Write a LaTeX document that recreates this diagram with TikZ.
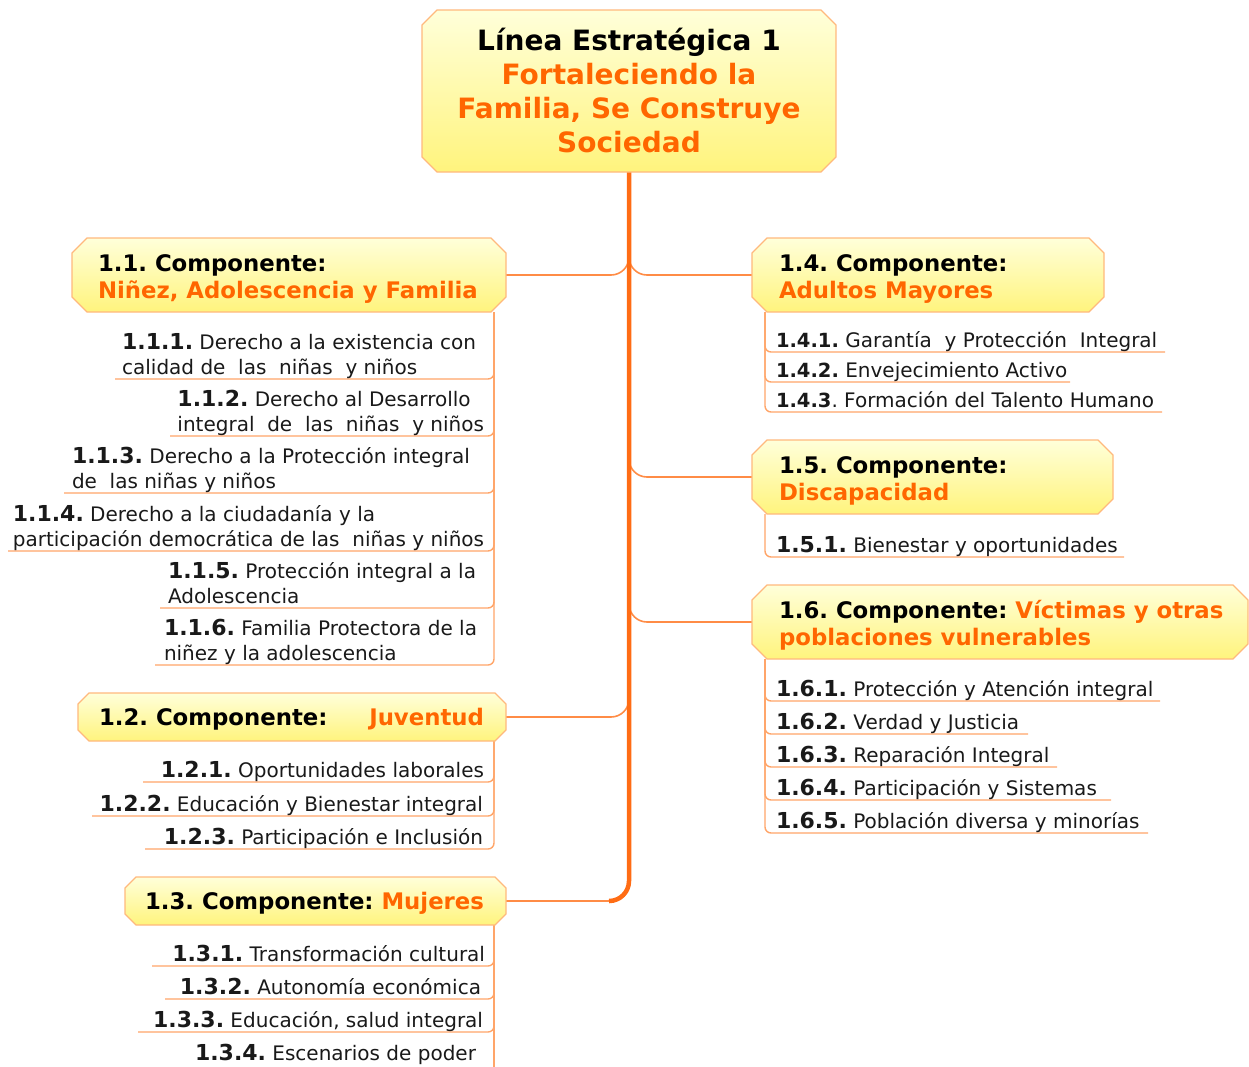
\documentclass[tikz,border=0pt]{standalone}
\usepackage{fontspec}
\setmainfont{DejaVu Sans}
\usetikzlibrary{calc,fit}
\frenchspacing
\definecolor{ttl}{RGB}{255,102,0}
\definecolor{trunkc}{RGB}{255,108,20}
\definecolor{branchc}{RGB}{255,140,70}
\definecolor{leafc}{RGB}{255,165,105}
\definecolor{boxline}{RGB}{255,185,125}
\definecolor{boxtop}{RGB}{255,255,218}
\definecolor{boxbot}{RGB}{255,244,125}
\definecolor{txt}{RGB}{25,25,25}
\newcommand\lnum[1]{{\fontsize{22pt}{24pt}\selectfont\bfseries #1}}
\newcommand\snum[1]{{\fontsize{19.5pt}{24pt}\selectfont\bfseries #1}}
\newcommand\mystack[2]{\vtop{\baselineskip=#1\lineskiplimit=-20pt\lineskip=0pt\relax #2}}
\newcommand\myline[1]{\hbox{#1}}
\newcommand\ctrline[1]{\hbox to 420pt{\hfil#1\hfil}}
\newcommand\orng[1]{\textcolor{ttl}{#1}}
\newcommand\boxgeom[5]{%
  \coordinate (#1nw) at (#2,#3);
  \coordinate (#1se) at (#4,#5);
  \node[fit=(#1nw)(#1se), inner sep=0pt, outer sep=0pt] (#1) {};}
\newcommand\boxdraw[2]{%
  \path[cbox] ([xshift=#2]#1.north west) -- ([xshift=-#2]#1.north east)
    -- ([yshift=-#2]#1.north east) -- ([yshift=#2]#1.south east)
    -- ([xshift=-#2]#1.south east) -- ([xshift=#2]#1.south west)
    -- ([yshift=#2]#1.south west) -- ([yshift=-#2]#1.north west) -- cycle;}
\begin{document}
\begin{tikzpicture}[x=1pt,y=-1pt,
  cbox/.style={draw=boxline, line width=1.3pt, top color=boxtop, bottom color=boxbot},
  trunk/.style={draw=trunkc, line width=4.5pt},
  branch/.style={draw=branchc, line width=1.6pt, rounded corners=18pt},
  leafl/.style={draw=leafc, line width=1.4pt, rounded corners=6pt},
  ttext/.style={inner sep=0pt, outer sep=0pt, font=\fontsize{28pt}{34pt}\selectfont\bfseries, anchor=base},
  ctext/.style={inner sep=0pt, outer sep=0pt, font=\fontsize{22.8pt}{27pt}\selectfont\bfseries, anchor=base west},
  ltext/.style={inner sep=0pt, outer sep=0pt, text=txt, font=\fontsize{20pt}{24.5pt}\selectfont},
]
\useasboundingbox (0,0) rectangle (1249,1066);
\coordinate (sL) at (494,0);
\coordinate (sR) at (765,0);

% box geometry
\boxgeom{top}{422}{10}{836}{172}
\boxgeom{b11}{72}{238}{506}{312}
\boxgeom{b12}{78}{693}{506}{741}
\boxgeom{b13}{125}{877}{506}{925}
\boxgeom{b14}{752}{238}{1104}{312}
\boxgeom{b15}{752}{440}{1113}{514}
\boxgeom{b16}{752}{585}{1248}{659}

% branches
\draw[branch] ($(b11.east -| top.south)+(0,-30)$) |- (b11.east);
\draw[branch] ($(b12.east -| top.south)+(0,-30)$) |- (b12.east);
\draw[branch] ($(b13.east -| top.south)+(0,-30)$) |- (b13.east);
\draw[branch] ($(b14.west -| top.south)+(0,-30)$) |- (b14.west);
\draw[branch] ($(b15.west -| top.south)+(0,-30)$) |- (b15.west);
\draw[branch] ($(b16.west -| top.south)+(0,-30)$) |- (b16.west);
% trunk
\draw[trunk] (top.south) -- ($(b13.east -| top.south)+(0,-20)$)
  to[out=-90,in=0] ($(b13.east -| top.south)+(-20,0)$);

% leaf underline coordinates
\coordinate (u111) at (115,379);
\coordinate (u112) at (170,436);
\coordinate (u113) at (64,493);
\coordinate (u114) at (8,551);
\coordinate (u115) at (160,608);
\coordinate (u116) at (155,665);
\coordinate (u121) at (143,782);
\coordinate (u122) at (92,816);
\coordinate (u123) at (145,849);
\coordinate (u131) at (152,966);
\coordinate (u132) at (165,999);
\coordinate (u133) at (138,1032);
\coordinate (e134) at (494,1068);
\coordinate (u141) at (1165,352);
\coordinate (u142) at (1070,382);
\coordinate (u143) at (1162,412);
\coordinate (u151) at (1124,557);
\coordinate (u161) at (1160,701);
\coordinate (u162) at (1028,734);
\coordinate (u163) at (1057,767);
\coordinate (u164) at (1111,800);
\coordinate (u165) at (1148,833);

\foreach \u in {u111,u112,u113,u114,u115,u116}
  \draw[leafl] (b11.south -| sL) |- (\u);
\foreach \u in {u121,u122,u123}
  \draw[leafl] (b12.south -| sL) |- (\u);
\foreach \u in {u131,u132,u133}
  \draw[leafl] (b13.south -| sL) |- (\u);
\draw[leafl] (b13.south -| sL) -- (e134);
\foreach \u in {u141,u142,u143}
  \draw[leafl] (b14.south -| sR) |- (\u);
\draw[leafl] (b15.south -| sR) |- (u151);
\foreach \u in {u161,u162,u163,u164,u165}
  \draw[leafl] (b16.south -| sR) |- (\u);

% boxes
\boxdraw{top}{15pt}
\boxdraw{b11}{15pt}
\boxdraw{b12}{11pt}
\boxdraw{b13}{11pt}
\boxdraw{b14}{15pt}
\boxdraw{b15}{15pt}
\boxdraw{b16}{15pt}

% box texts
\node[ttext] (ttop) at (629,50) {\mystack{34pt}{\ctrline{Línea Estratégica 1}\ctrline{\orng{Fortaleciendo la}}\ctrline{\orng{Familia, Se Construye}}\ctrline{\orng{Sociedad}}}};
\node[ctext] (t11) at (98,271) {\mystack{27pt}{\myline{1.1. Componente:}\myline{\orng{Niñez, Adolescencia y Familia}}}};
\node[ctext] (t12) at (99,725) {\hbox to 385pt{1.2. Componente:\hfil\orng{Juventud}}};
\node[ctext, anchor=base east] (t13) at (484,909) {1.3. Componente: \orng{Mujeres}};
\node[ctext] (t14) at (779,271) {\mystack{27pt}{\myline{1.4. Componente:}\myline{\orng{Adultos Mayores}}}};
\node[ctext] (t15) at (779,473) {\mystack{27pt}{\myline{1.5. Componente:}\myline{\orng{Discapacidad}}}};
\node[ctext] (t16) at (779,618) {\mystack{27pt}{\myline{1.6. Componente: \orng{Víctimas y otras}}\myline{\orng{poblaciones vulnerables}}}};

% leaf texts (left)
\node[ltext, anchor=base east] (l111) at (476,349.5) {\mystack{24.5pt}{\myline{\lnum{1.1.1.} Derecho a la existencia con}\myline{calidad de\ \ las\ \ niñas\ \ y niños}}};
\node[ltext, anchor=base east] (l112) at (484,406.5) {\mystack{24.5pt}{\myline{\lnum{1.1.2.} Derecho al Desarrollo}\myline{integral\ \ de\ \ las\ \ niñas\ \ y niños}}};
\node[ltext, anchor=base east] (l113) at (470,463.5) {\mystack{24.5pt}{\myline{\lnum{1.1.3.} Derecho a la Protección integral}\myline{de\ \ las niñas y niños}}};
\node[ltext, anchor=base east] (l114) at (484,521.5) {\mystack{24.5pt}{\myline{\lnum{1.1.4.} Derecho a la ciudadanía y la}\myline{participación democrática de las\ \ niñas y niños}}};
\node[ltext, anchor=base east] (l115) at (476,578.5) {\mystack{24.5pt}{\myline{\lnum{1.1.5.} Protección integral a la}\myline{Adolescencia}}};
\node[ltext, anchor=base east] (l116) at (477,635.5) {\mystack{24.5pt}{\myline{\lnum{1.1.6.} Familia Protectora de la}\myline{niñez y la adolescencia}}};
\node[ltext, anchor=base east] (l121) at (484,777) {\lnum{1.2.1.} Oportunidades laborales};
\node[ltext, anchor=base east] (l122) at (483,811) {\lnum{1.2.2.} Educación y Bienestar integral};
\node[ltext, anchor=base east] (l123) at (483,844) {\lnum{1.2.3.} Participación e Inclusión};
\node[ltext, anchor=base east] (l131) at (485,961) {\lnum{1.3.1.} Transformación cultural};
\node[ltext, anchor=base east] (l132) at (481,994) {\lnum{1.3.2.} Autonomía económica};
\node[ltext, anchor=base east] (l133) at (483,1027) {\lnum{1.3.3.} Educación, salud integral};
\node[ltext, anchor=base east] (l134) at (476,1060) {\lnum{1.3.4.} Escenarios de poder};

% leaf texts (right)
\node[ltext, anchor=base west] (l141) at (776,347) {\snum{1.4.1.} Garantía\ \ y Protección\ \ Integral};
\node[ltext, anchor=base west] (l142) at (776,377) {\snum{1.4.2.} Envejecimiento Activo};
\node[ltext, anchor=base west] (l143) at (776,407) {\snum{1.4.3}. Formación del Talento Humano};
\node[ltext, anchor=base west] (l151) at (776,552) {\lnum{1.5.1.} Bienestar y oportunidades};
\node[ltext, anchor=base west] (l161) at (776,696) {\lnum{1.6.1.} Protección y Atención integral};
\node[ltext, anchor=base west] (l162) at (776,729) {\lnum{1.6.2.} Verdad y Justicia};
\node[ltext, anchor=base west] (l163) at (776,762) {\lnum{1.6.3.} Reparación Integral};
\node[ltext, anchor=base west] (l164) at (776,795) {\lnum{1.6.4.} Participación y Sistemas};
\node[ltext, anchor=base west] (l165) at (776,828) {\lnum{1.6.5.} Población diversa y minorías};
\end{tikzpicture}
\end{document}
